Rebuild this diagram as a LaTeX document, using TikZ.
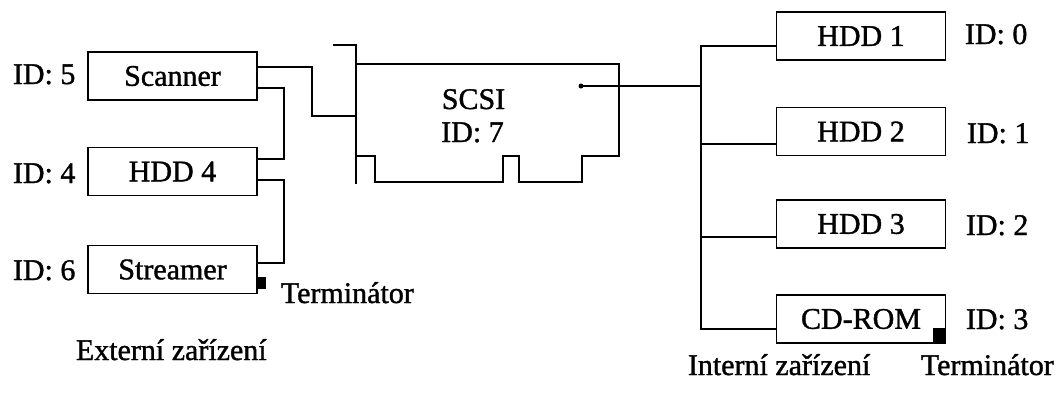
\documentclass[tikz,border=0pt]{standalone}
\usepackage{fontspec}
\setmainfont{Liberation Serif}
\newfontfamily\heavy[FakeBold=1.2]{Liberation Serif}
\begin{document}
\begin{tikzpicture}[x=1pt,y=-1pt,
  line width=1.8pt,
  dev/.style={draw,rectangle,minimum width=169pt,minimum height=48pt,inner sep=0pt,font=\heavy\fontsize{30}{33}\selectfont},
  lbl/.style={anchor=base west,inner sep=0pt,font=\heavy\fontsize{30}{33}\selectfont},
  lblc/.style={anchor=base,inner sep=0pt,font=\heavy\fontsize{30}{33}\selectfont}]
\useasboundingbox (0,0) rectangle (1061,392);
% external devices
\node[dev] (scanner) at (172.5,76) {Scanner};
\node[dev] (hdd4) at (172.5,171.5) {HDD 4};
\node[dev] (streamer) at (172.5,269.5) {Streamer};
\node[lbl] (id5) at (12,84) {ID: 5};
\node[lbl] (id4) at (12,183) {ID: 4};
\node[lbl] (id6) at (12,280) {ID: 6};
\node[lbl] (termL) at (280,303) {Terminátor};
\node[lbl] (ext) at (75,360) {Externí zařízení};
% internal devices
\node[dev] (hdd1) at (861,36) {HDD 1};
\node[dev] (hdd2) at (861,131.5) {HDD 2};
\node[dev] (hdd3) at (861,224) {HDD 3};
\node[dev] (cdrom) at (861,319) {CD-ROM};
\node[lbl] (id0) at (964,44) {ID: 0};
\node[lbl] (id1) at (966,143) {ID: 1};
\node[lbl] (id2) at (965,235) {ID: 2};
\node[lbl] (id3) at (965,329) {ID: 3};
\node[lbl] (int) at (687,375) {Interní zařízení};
\node[lbl] (termR) at (920,375) {Terminátor};
% SCSI card
\draw (333,45) -- (356,45) -- (356,184);
\draw (356,64) -- (619,64) -- (619,156) -- (582,156) -- (582,182) -- (519,182)
  -- (519,156) -- (503,156) -- (503,182) -- (375,182) -- (375,156) -- (356,156);
\node[lblc] (scsi) at (473.5,109) {SCSI};
\node[lblc] (scsiid) at (472.5,142) {ID: 7};
\coordinate (cardin) at (356,116);
\coordinate (dot) at (581,86);
\fill (dot) circle (2.5);
% external cabling
\draw ([yshift=9pt]scanner.east) -- (312,67) -- (312,116) -- (cardin);
\draw ([yshift=-12pt]scanner.east) -- (284,88) -- (284,159) -- ([yshift=12.5pt]hdd4.east);
\draw ([yshift=-8.5pt]hdd4.east) -- (284,180) -- (284,263) -- ([yshift=6.5pt]streamer.east);
\fill ([yshift=-7.5pt]streamer.east) rectangle ++(8,12);
% internal cabling
\coordinate (bt) at (701,46);
\coordinate (bb) at (701,329);
\draw (dot) -- (701,86);
\draw ([yshift=-10pt]hdd1.west) -- (bt) -- (bb) -- ([yshift=-10pt]cdrom.west);
\draw ([yshift=-12.5pt]hdd2.west) -- +(-75,0);
\draw ([yshift=-13pt]hdd3.west) -- +(-75,0);
\fill (cdrom.south east) rectangle ++(-13,-16);
\end{tikzpicture}
\end{document}
